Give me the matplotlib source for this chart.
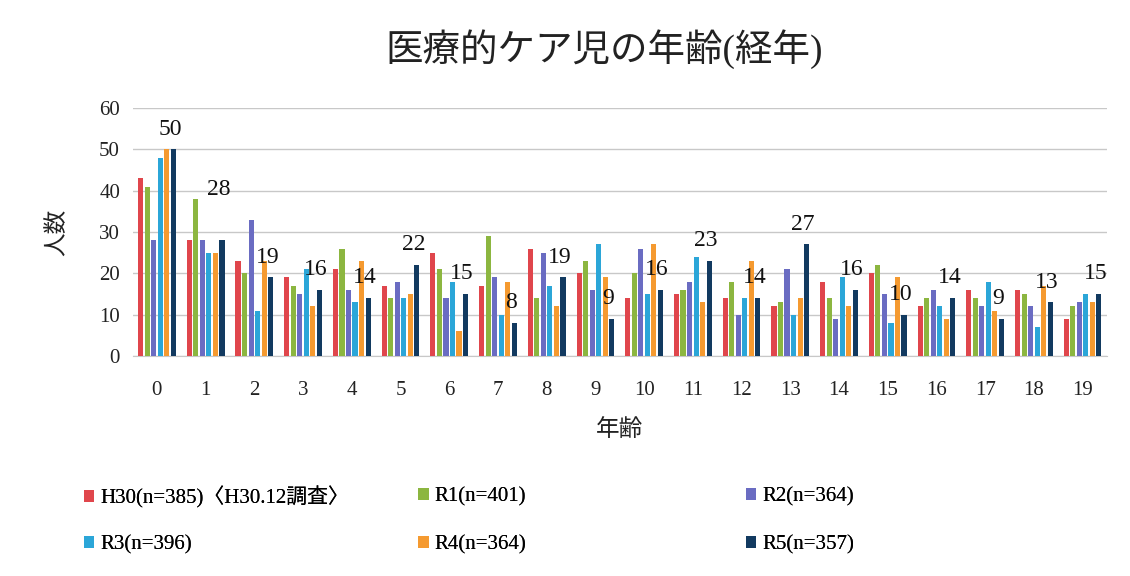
import matplotlib
matplotlib.use("Agg")
import matplotlib.pyplot as plt
import numpy as np
from matplotlib.patches import Patch

plt.rcParams['font.family'] = ['Liberation Serif', 'Noto Sans CJK JP', 'DejaVu Sans']

ages = [str(i) for i in range(20)]
series_names = ["H30(n=385)〈H30.12調査〉", "R1(n=401)", "R2(n=364)",
                "R3(n=396)", "R4(n=364)", "R5(n=357)"]
h30 = [43, 28, 23, 19, 21, 17, 25, 17, 26, 20, 14, 15, 14, 12, 18, 20, 12, 16, 16, 9]
r1  = [41, 38, 20, 17, 26, 14, 21, 29, 14, 23, 20, 16, 18, 13, 14, 22, 14, 14, 15, 12]
r2  = [28, 28, 33, 15, 16, 18, 14, 19, 25, 16, 26, 18, 10, 21, 9, 15, 16, 12, 12, 13]
r3  = [48, 25, 11, 21, 13, 14, 18, 10, 17, 27, 15, 24, 14, 10, 19, 8, 12, 18, 7, 15]
r4  = [50, 25, 23, 12, 23, 15, 6, 18, 12, 19, 27, 13, 23, 14, 12, 19, 9, 11, 17, 13]
r5  = [50, 28, 19, 16, 14, 22, 15, 8, 19, 9, 16, 23, 14, 27, 16, 10, 14, 9, 13, 15]
colors = ["#E0464C", "#8CB640", "#6A6CC2", "#2BA6D8", "#F59A30", "#123A60"]

data = [h30, r1, r2, r3, r4, r5]

fig = plt.figure(figsize=(11.3, 5.76), dpi=100)
ax = fig.add_axes([0.1173, 0.3819, 0.8623, 0.4306])

x = np.arange(len(ages))
slot = 0.134
bw = 0.105
for i, (vals, c) in enumerate(zip(data, colors)):
    ax.bar(x + (i - 2.5) * slot, vals, width=bw, color=c, zorder=3)

# data labels for R5
label_extra = {1: 7.5}
for xi, v in zip(x, r5):
    off = label_extra.get(xi, 0)
    ax.annotate(str(v), (xi + 2.5 * slot - 0.07, v + off), xytext=(0, 7),
                textcoords="offset points", ha="center", va="bottom",
                fontsize=17, color="#111111")

ax.set_xlim(-0.5, 19.5)
ax.set_ylim(0, 60)
ax.set_yticks(range(0, 61, 10))
ax.set_xticks(x)
ax.set_xticklabels(ages)
ax.tick_params(axis='both', length=0, labelsize=15, colors="#222222")
ax.tick_params(axis='x', pad=18)
ax.tick_params(axis='y', pad=9)
ax.grid(axis='y', color="#c8c8c8", linewidth=1.0, zorder=0)
for s in ["top", "right", "left"]:
    ax.spines[s].set_visible(False)
ax.spines["bottom"].set_color("#c8c8c8")

ax.set_xlabel("年齢", fontsize=17, labelpad=14, color="#222222")
ax.set_ylabel("人数", fontsize=17, labelpad=22, color="#222222")

fig.text(0.535, 0.915, "医療的ケア児の年齢(経年)", ha="center", va="center",
         fontsize=27, color="#222222")

# legend: one entry per position (two rows x three columns)
xpos = [0.074, 0.370, 0.660]
ypos = [0.137, 0.054]
order = [(0, 0, 0), (1, 1, 0), (2, 2, 0), (3, 0, 1), (4, 1, 1), (5, 2, 1)]
for idx, col, row in order:
    leg = fig.legend([Patch(facecolor=colors[idx])], [series_names[idx]],
                     loc="center left", bbox_to_anchor=(xpos[col], ypos[row]),
                     frameon=False, fontsize=15, handlelength=0.5,
                     handleheight=0.5, handletextpad=0.3, borderpad=0,
                     borderaxespad=0)
    fig.add_artist(leg)

fig.savefig("out.png", dpi=100, facecolor="white")
